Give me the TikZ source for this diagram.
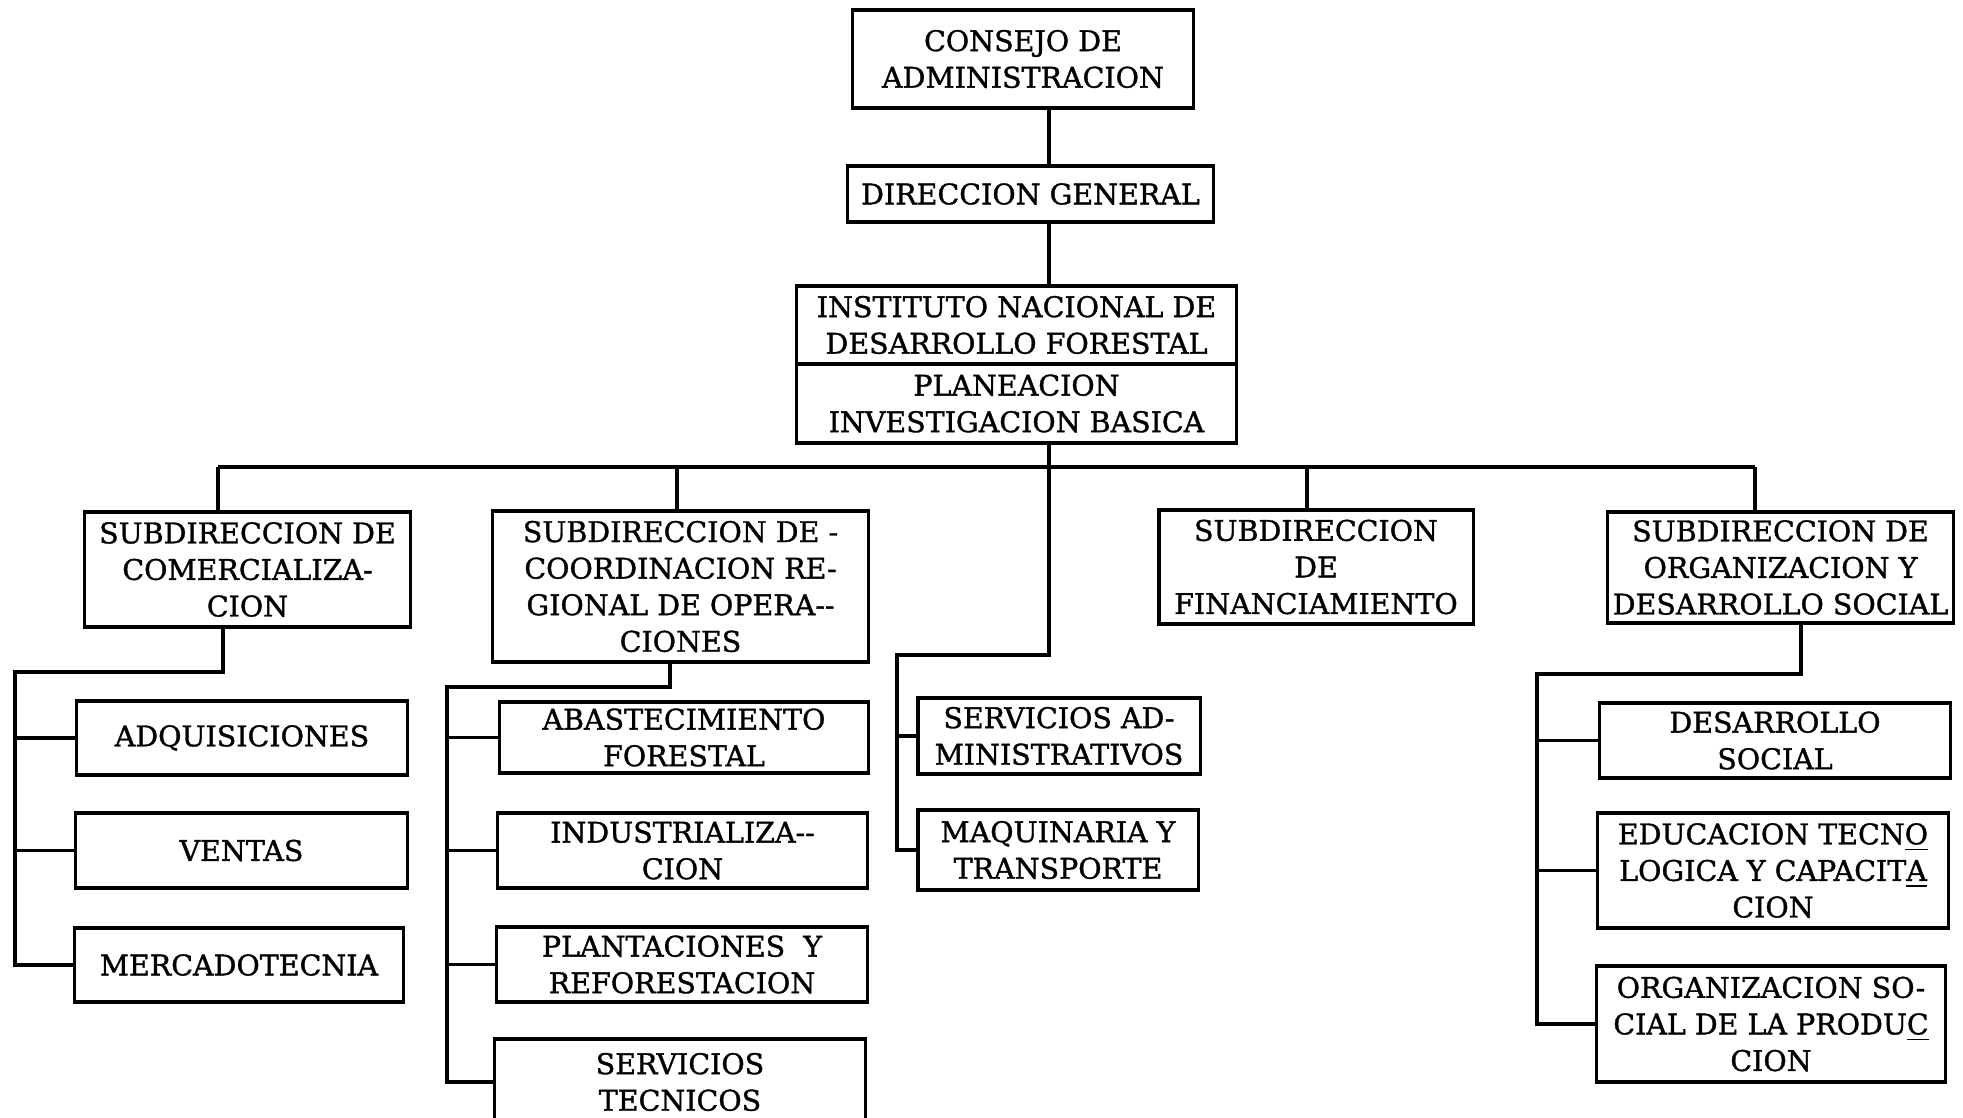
\documentclass[tikz,border=0pt]{standalone}
\usepackage{fontspec}
\setmainfont{DejaVu Serif}[FakeBold=1.2]
\begin{document}
\begin{tikzpicture}[x=0.01cm,y=-0.01cm,
  box/.style={draw, line width=0.9pt, inner sep=0pt, align=center,
    font=\fontsize{8.1}{10.4}\selectfont},
  wire/.style={draw, line width=0.9pt, line join=miter}]
\useasboundingbox (0,0) rectangle (1963,1117);
\clip (0,0) rectangle (1963,1117);
\fill[white] (0,0) rectangle (1963,1117);

% top of the chart
\node[box, minimum width=3.40cm, minimum height=0.98cm] (cons) at (1023,59) {CONSEJO DE\\ADMINISTRACION};
\node[box, minimum width=3.65cm, minimum height=0.56cm] (dir) at (1030.5,194) {DIRECCION GENERAL};
\node[box, minimum width=4.39cm, minimum height=0.78cm] (inst) at (1016.5,325) {INSTITUTO NACIONAL DE\\DESARROLLO FORESTAL};
\node[box, minimum width=4.39cm, minimum height=0.79cm] (plan) at (1016.5,403.5) {PLANEACION\\INVESTIGACION BASICA};

% subdirections
\node[box, minimum width=3.25cm, minimum height=1.15cm] (com) at (247.5,569.5) {SUBDIRECCION DE\\COMERCIALIZA-\\CION};
\node[box, minimum width=3.75cm, minimum height=1.51cm] (coo) at (680.5,586.5) {SUBDIRECCION DE -\\COORDINACION RE-\\GIONAL DE OPERA-{}-\\CIONES};
\node[box, minimum width=3.14cm, minimum height=1.14cm] (fin) at (1316,567) {SUBDIRECCION\\DE\\FINANCIAMIENTO};
\node[box, minimum width=3.45cm, minimum height=1.11cm] (org) at (1780.5,567.5) {SUBDIRECCION DE\\ORGANIZACION Y\\DESARROLLO SOCIAL};

% departments
\node[box, minimum width=3.30cm, minimum height=0.74cm] (adq) at (242,738) {ADQUISICIONES};
\node[box, minimum width=3.31cm, minimum height=0.75cm] (ven) at (241.5,850.5) {VENTAS};
\node[box, minimum width=3.28cm, minimum height=0.74cm] (mer) at (239,965) {MERCADOTECNIA};

\node[box, minimum width=3.68cm, minimum height=0.71cm] (aba) at (684,737.5) {ABASTECIMIENTO\\FORESTAL};
\node[box, minimum width=3.69cm, minimum height=0.75cm] (ind) at (682.5,850.5) {INDUSTRIALIZA-{}-\\CION};
\node[box, minimum width=3.70cm, minimum height=0.75cm] (pla) at (682,964.5) {PLANTACIONES~~Y\\REFORESTACION};
\node[box, minimum width=3.70cm, minimum height=0.86cm] (ser) at (680,1082) {SERVICIOS\\TECNICOS};

\node[box, minimum width=2.82cm, minimum height=0.76cm] (sad) at (1059,736) {SERVICIOS AD-\\MINISTRATIVOS};
\node[box, minimum width=2.80cm, minimum height=0.80cm] (maq) at (1058,850) {MAQUINARIA Y\\TRANSPORTE};

\node[box, minimum width=3.50cm, minimum height=0.75cm] (dso) at (1775,740.5) {DESARROLLO\\SOCIAL};
\node[box, minimum width=3.50cm, minimum height=1.15cm] (edu) at (1773,870.5) {EDUCACION TECN\underline{O}\\LOGICA Y CAPACIT\underline{A}\\CION};
\node[box, minimum width=3.48cm, minimum height=1.16cm] (osp) at (1771,1024) {ORGANIZACION SO-\\CIAL DE LA PRODU\underline{C}\\CION};

% main spine and bus
\coordinate (sp) at (1049,0);
\draw[wire] (cons.south -| sp) -- (dir.north -| sp);
\draw[wire] (dir.south -| sp) -- (inst.north -| sp);
\coordinate (busL) at (218,467);
\coordinate (busR) at (1755,467);
\coordinate (cooX) at (677,467);
\coordinate (finX) at (1307,467);
\draw[wire] (busL) -- (busR);
\draw[wire] (busL) -- (com.north -| busL);
\draw[wire] (cooX) -- (coo.north -| cooX);
\draw[wire] (finX) -- (fin.north -| finX);
\draw[wire] (busR) -- (org.north -| busR);

% central services
\coordinate (midA) at (1049,655);
\coordinate (midB) at (897,655);
\draw[wire] (plan.south -| sp) -- (midA) -- (midB) |- (maq.west);
\draw[wire] (sad.west) -- (sad.west -| midB);

% commercial branch
\coordinate (comA) at (223,672);
\coordinate (comB) at (15,672);
\draw[wire] (com.south -| comA) -- (comA) -- (comB) |- (mer.west);
\draw[wire] (adq.west) -- (adq.west -| comB);
\draw[wire] (ven.west) -- (ven.west -| comB);

% regional operations branch
\coordinate (cooA) at (670,687);
\coordinate (cooB) at (447,687);
\draw[wire] (coo.south -| cooA) -- (cooA) -- (cooB) |- (ser.west);
\draw[wire] (aba.west) -- (aba.west -| cooB);
\draw[wire] (ind.west) -- (ind.west -| cooB);
\draw[wire] (pla.west) -- (pla.west -| cooB);

% social organization branch
\coordinate (orgA) at (1801,674);
\coordinate (orgB) at (1537,674);
\draw[wire] (org.south -| orgA) -- (orgA) -- (orgB) |- (osp.west);
\draw[wire] (dso.west) -- (dso.west -| orgB);
\draw[wire] (edu.west) -- (edu.west -| orgB);
\end{tikzpicture}
\end{document}
